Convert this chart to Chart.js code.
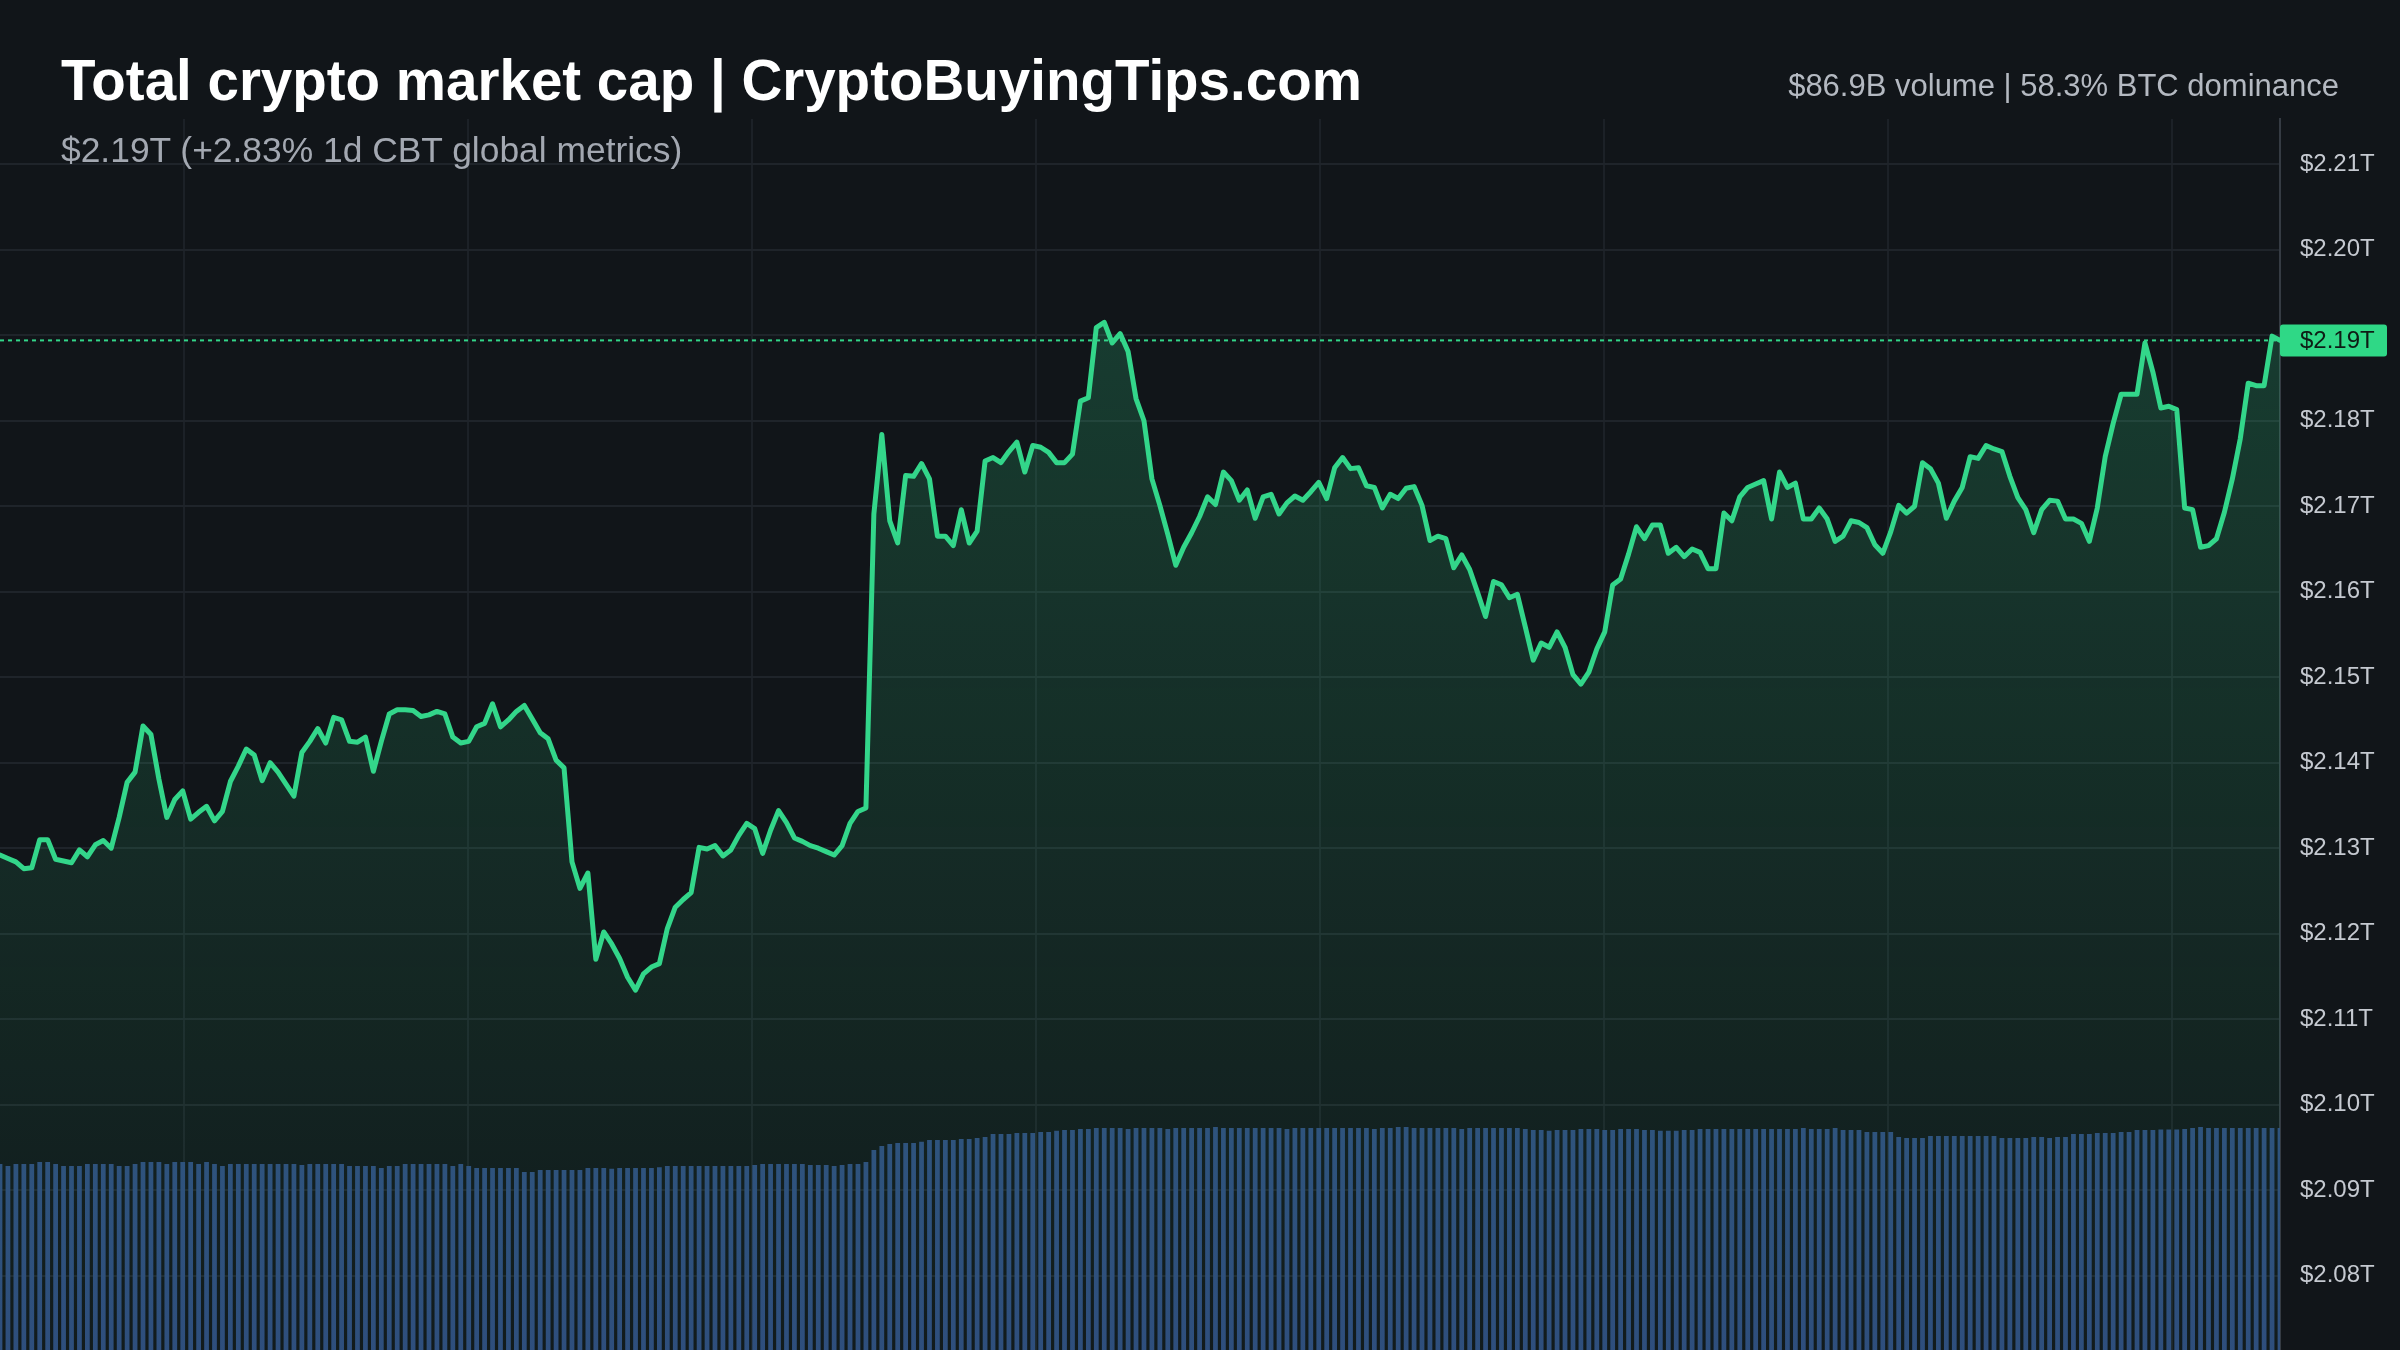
<!DOCTYPE html>
<html lang="en">

<head>
    <meta charset="UTF-8">
    <title>Total crypto market cap</title>
    <script src="https://cdn.jsdelivr.net/npm/chart.js"></script>
    <style>
        html, body { margin: 0; padding: 0; background: #111519; }
        #wrap { position: relative; width: 2400px; height: 1350px; overflow: hidden; }
        #capChart { position: absolute; left: 0; top: 0; }
        .txt { position: absolute; font-family: 'Liberation Sans', Arial, Helvetica, sans-serif; line-height: 1; white-space: nowrap; }
        #title { left: 61px; top: 53px; font-size: 56.5px; font-weight: bold; color: #ffffff; }
        #sub { left: 61px; top: 133px; font-size: 35.4px; color: #a3a8b1; }
        #stats { right: 61px; top: 70px; font-size: 31px; color: #b4b9c1; }
    </style>
</head>

<body>
    <div id="wrap">
        <canvas id="capChart" width="2400" height="1350"></canvas>
        <div class="txt" id="title">Total crypto market cap | CryptoBuyingTips.com</div>
        <div class="txt" id="sub">$2.19T (+2.83% 1d CBT global metrics)</div>
        <div class="txt" id="stats">$86.9B volume | 58.3% BTC dominance</div>
    </div>

    <script>
        // market cap, $T, one value per 5 minutes over the last 24h
        const marketCap = [
            2.1292, 2.1288, 2.1284, 2.1276, 2.1277, 2.1310, 2.1310, 2.1287, 2.1285, 2.1283,
            2.1298, 2.1290, 2.1304, 2.1309, 2.1300, 2.1336, 2.1377, 2.1389, 2.1443, 2.1433,
            2.1381, 2.1336, 2.1357, 2.1367, 2.1334, 2.1342, 2.1349, 2.1332, 2.1343, 2.1378,
            2.1396, 2.1416, 2.1409, 2.1379, 2.1400, 2.1389, 2.1375, 2.1361, 2.1412, 2.1425,
            2.1440, 2.1423, 2.1453, 2.1450, 2.1425, 2.1424, 2.1430, 2.1390, 2.1425, 2.1457,
            2.1462, 2.1462, 2.1461, 2.1454, 2.1456, 2.1460, 2.1457, 2.1430, 2.1423, 2.1425,
            2.1442,
            2.1446, 2.1469, 2.1442, 2.1450, 2.1460, 2.1467, 2.1451, 2.1435, 2.1428, 2.1403,
            2.1394, 2.1284, 2.1253, 2.1271, 2.1170, 2.1202, 2.1188, 2.1171, 2.1149, 2.1134,
            2.1153, 2.1161, 2.1165, 2.1206, 2.1231, 2.1240, 2.1248, 2.1301, 2.1299, 2.1303,
            2.1291, 2.1298, 2.1315, 2.1329, 2.1323, 2.1294, 2.1321, 2.1344, 2.1330, 2.1312,
            2.1308, 2.1303, 2.1300, 2.1296, 2.1292, 2.1303, 2.1329, 2.1343, 2.1347, 2.1691,
            2.1784, 2.1683, 2.1657, 2.1736, 2.1735, 2.1750, 2.1732, 2.1665, 2.1665, 2.1654,
            2.1696, 2.1657, 2.1671, 2.1753, 2.1757, 2.1751, 2.1764, 2.1775, 2.1740, 2.1771,
            2.1769, 2.1763, 2.1751, 2.1751, 2.1761, 2.1823, 2.1827, 2.1909, 2.1915, 2.1891,
            2.1902, 2.1881, 2.1826, 2.1800, 2.1732, 2.1701, 2.1667, 2.1631, 2.1652, 2.1669,
            2.1688, 2.1711, 2.1702, 2.1740, 2.1730, 2.1707, 2.1719, 2.1686, 2.1711, 2.1714,
            2.1691, 2.1704, 2.1712, 2.1707, 2.1717, 2.1728, 2.1709, 2.1745, 2.1757, 2.1744,
            2.1745, 2.1724, 2.1722, 2.1698, 2.1714, 2.1709, 2.1721, 2.1723, 2.1701, 2.1660,
            2.1665, 2.1662, 2.1628, 2.1643, 2.1626, 2.1599, 2.1571, 2.1612, 2.1608, 2.1593,
            2.1597, 2.1559, 2.1520, 2.1540, 2.1535, 2.1553, 2.1535, 2.1503, 2.1492, 2.1506,
            2.1533, 2.1553, 2.1608, 2.1615, 2.1644, 2.1676, 2.1662, 2.1678, 2.1678, 2.1645,
            2.1652, 2.1641, 2.1650, 2.1646, 2.1627, 2.1627, 2.1692, 2.1683, 2.1711, 2.1722,
            2.1726, 2.1730, 2.1685, 2.1740, 2.1722, 2.1727, 2.1685, 2.1685, 2.1698, 2.1685,
            2.1659, 2.1665, 2.1683, 2.1681, 2.1675, 2.1655, 2.1645, 2.1670, 2.1701, 2.1692,
            2.1700, 2.1751, 2.1744, 2.1727, 2.1686, 2.1706, 2.1722, 2.1758, 2.1756, 2.1771,
            2.1767, 2.1764, 2.1735, 2.1710, 2.1696, 2.1669, 2.1696, 2.1707, 2.1706, 2.1685,
            2.1685, 2.1680, 2.1659, 2.1698, 2.1758, 2.1797, 2.1831, 2.1831, 2.1831, 2.1891,
            2.1857, 2.1815, 2.1817, 2.1813, 2.1698, 2.1696, 2.1652, 2.1654, 2.1662, 2.1693,
            2.1732, 2.1779, 2.1844, 2.1841, 2.1841, 2.1899, 2.1894
        ];

        // rolling 24h volume, $B, same 5 minute steps
        const volume = [
            72.8, 72.0, 72.8, 72.8, 72.8, 73.6, 73.6, 72.8, 72.0, 72.0,
            72.0, 72.8, 72.8, 72.8, 72.8, 72.0, 72.0, 72.8, 73.6, 73.6,
            73.6, 72.8, 73.6, 73.6, 73.6, 72.8, 73.6, 72.8, 72.0, 72.8,
            72.8, 72.8, 72.8, 72.8, 72.8, 72.8, 72.8, 72.8, 72.4, 72.8,
            72.8, 72.8, 72.8, 72.8, 72.0, 72.0, 72.0, 72.0, 71.3, 72.0,
            72.0, 72.8, 72.8, 72.8, 72.8, 72.8, 72.8, 72.0, 72.8, 72.0,
            71.3, 71.3, 71.3, 71.3, 71.3, 71.3, 69.7, 69.7, 70.5, 70.5,
            70.5, 70.5, 70.5, 70.5, 71.3, 71.3, 71.3, 71.0, 71.3, 71.3,
            71.3, 71.3, 71.3, 71.6, 72.0, 72.0, 72.0, 72.0, 72.0, 72.0,
            72.0, 72.0, 72.0, 72.0, 72.0, 72.4, 72.8, 72.8, 72.8, 72.8,
            72.8, 72.8, 72.4, 72.4, 72.4, 72.0, 72.4, 72.8, 72.8, 73.6,
            78.3, 79.9, 80.7, 81.1, 81.1, 81.1, 81.5, 82.2, 82.2, 82.2,
            82.2, 82.6, 82.6, 83.0, 83.4, 84.6, 84.6, 84.6, 85.0, 85.0,
            85.0, 85.4, 85.4, 85.8, 86.1, 86.1, 86.5, 86.5, 86.9, 86.9,
            86.9, 86.9, 86.5, 86.9, 86.9, 86.9, 86.9, 86.5, 86.9, 86.9,
            86.9, 86.9, 86.9, 87.3, 86.9, 86.9, 86.9, 86.9, 86.9, 86.9,
            86.9, 86.9, 86.5, 86.9, 86.9, 86.9, 86.9, 86.9, 86.9, 86.9,
            86.9, 86.9, 86.9, 86.5, 86.9, 86.9, 87.3, 87.3, 86.9, 86.9,
            86.9, 86.9, 86.9, 86.9, 86.5, 86.9, 86.9, 86.9, 86.9, 86.9,
            86.9, 86.9, 86.5, 86.1, 86.1, 85.8, 86.1, 86.1, 86.1, 86.5,
            86.5, 86.5, 86.1, 86.1, 86.5, 86.5, 86.5, 86.1, 86.1, 85.8,
            85.8, 85.8, 86.1, 86.1, 86.5, 86.5, 86.5, 86.5, 86.5, 86.5,
            86.5, 86.5, 86.5, 86.5, 86.5, 86.5, 86.5, 86.9, 86.5, 86.5,
            86.5, 86.9, 86.1, 86.1, 86.1, 85.4, 85.4, 85.4, 85.4, 83.4,
            83.0, 83.0, 83.0, 83.8, 83.8, 83.8, 83.8, 83.8, 83.8, 83.8,
            83.8, 83.8, 83.0, 83.0, 83.0, 83.0, 83.4, 83.4, 83.0, 83.4,
            83.4, 84.6, 84.6, 84.6, 85.0, 85.0, 85.0, 85.4, 85.4, 86.1,
            86.1, 86.1, 86.3, 86.3, 86.3, 86.5, 86.9, 87.3, 86.9, 86.9,
            86.9, 86.9, 86.9, 86.9, 86.9, 86.9, 86.9, 86.9
        ];

        // y axis labels ($T) and the 3-hour vertical grid (in 5 min steps)
        const capTicks = [2.08, 2.09, 2.10, 2.11, 2.12, 2.13, 2.14, 2.15, 2.16, 2.17, 2.18, 2.19, 2.20, 2.21];
        const hourGrid = [23.2, 58.95, 94.7, 130.45, 166.2, 201.95, 237.7, 273.45];

        const GREEN = '#33d68a';
        const fmtCap = v => '$' + v.toFixed(2) + 'T';

        // dashed line at the last value + green price tag on the axis
        const lastPrice = {
            id: 'lastPrice',
            beforeDatasetsDraw(chart) {
                const y = chart.scales.y.getPixelForValue(marketCap[marketCap.length - 1]);
                const ctx = chart.ctx, area = chart.chartArea;
                ctx.save();
                ctx.strokeStyle = GREEN;
                ctx.lineWidth = 2;
                ctx.setLineDash([4, 4]);
                ctx.beginPath();
                ctx.moveTo(area.left, y);
                ctx.lineTo(area.right, y);
                ctx.stroke();
                ctx.restore();
            },
            afterDraw(chart) {
                const last = marketCap[marketCap.length - 1];
                const y = chart.scales.y.getPixelForValue(last);
                const ctx = chart.ctx, x = chart.chartArea.right;
                ctx.save();
                ctx.fillStyle = '#2fd886';
                ctx.beginPath();
                ctx.roundRect(x, y - 16, 107, 32, 3);
                ctx.fill();
                ctx.fillStyle = '#0e1c15';
                ctx.font = '24px "Liberation Sans", Arial, sans-serif';
                ctx.textBaseline = 'middle';
                ctx.fillText(fmtCap(last), x + 20, y + 1);
                ctx.restore();
            }
        };

        const ctx = document.getElementById('capChart').getContext('2d');
        new Chart(ctx, {
            type: 'line',
            data: {
                datasets: [{
                    type: 'line',
                    data: marketCap.map((v, i) => ({ x: i, y: v })),
                    yAxisID: 'y',
                    borderColor: GREEN,
                    borderWidth: 5,
                    borderJoinStyle: 'round',
                    borderCapStyle: 'round',
                    pointRadius: 0,
                    tension: 0,
                    fill: 'start',
                    backgroundColor: c => {
                        const a = c.chart.chartArea;
                        if (!a) return 'rgba(51,214,138,0.1)';
                        const g = c.chart.ctx.createLinearGradient(0, a.top, 0, a.bottom);
                        g.addColorStop(0, 'rgba(51,214,138,0.24)');
                        g.addColorStop(1, 'rgba(51,214,138,0.03)');
                        return g;
                    },
                    order: 1
                }, {
                    type: 'bar',
                    data: volume.map((v, i) => ({ x: i, y: v })),
                    yAxisID: 'vol',
                    backgroundColor: '#2e4a7c',
                    barPercentage: 0.6,
                    categoryPercentage: 1,
                    order: 2
                }]
            },
            options: {
                responsive: false,
                animation: false,
                layout: { padding: { top: 119, left: 0, right: 0, bottom: 0 } },
                plugins: { legend: { display: false }, tooltip: { enabled: false } },
                scales: {
                    x: {
                        type: 'linear',
                        min: 0,
                        max: marketCap.length - 1,
                        offset: false,
                        afterBuildTicks: s => { s.ticks = hourGrid.map(v => ({ value: v })); },
                        afterFit: s => { s.height = 0; s.paddingLeft = 0; s.paddingRight = 0; },
                        ticks: { display: false },
                        border: { display: false },
                        grid: { color: '#1c2127', lineWidth: 2, drawTicks: false, offset: false }
                    },
                    y: {
                        position: 'right',
                        min: 2.0713,
                        max: 2.2153,
                        afterBuildTicks: s => { s.ticks = capTicks.map(v => ({ value: v })); },
                        afterFit: s => { s.width = 120; s.paddingTop = 0; s.paddingBottom = 0; },
                        ticks: {
                            padding: 20,
                            color: '#c5c9d0',
                            font: { family: '"Liberation Sans", Arial, sans-serif', size: 24 },
                            callback: v => fmtCap(v)
                        },
                        border: { display: true, color: '#353b43', width: 2 },
                        grid: { color: '#1f242a', lineWidth: 2, drawTicks: false }
                    },
                    vol: {
                        display: false,
                        min: 0,
                        max: 482
                    }
                }
            },
            plugins: [lastPrice]
        });
    </script>
</body>

</html>
